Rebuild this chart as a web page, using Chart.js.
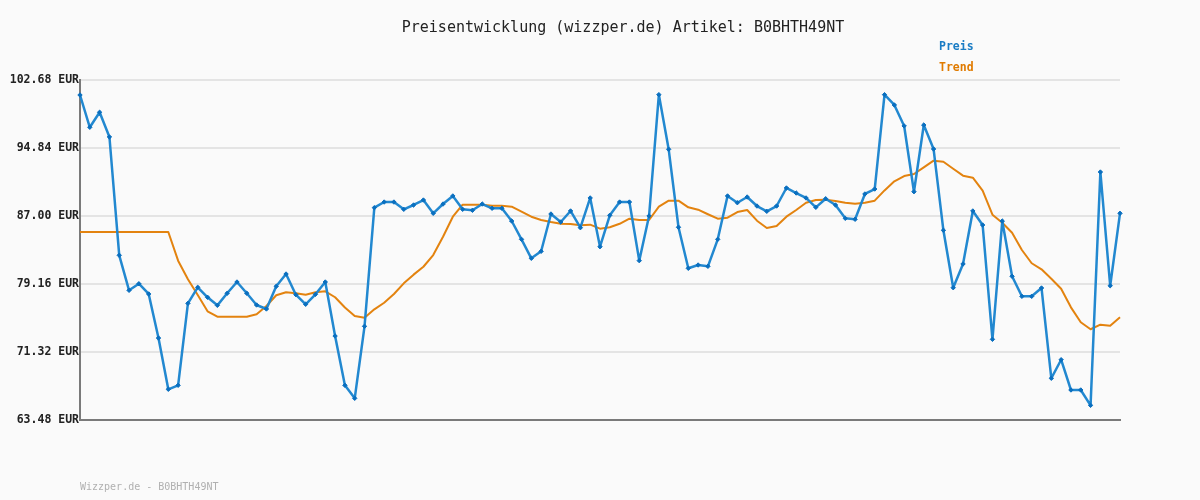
<!DOCTYPE html>
<html>
<head>
<meta charset="utf-8">
<script src="https://cdn.jsdelivr.net/npm/chart.js@4"></script>
<style>
  body { margin: 0; background: #fafafa; }
  #wrap { position: relative; width: 1200px; height: 500px; background: #fafafa; }
  .txt { position: absolute; font-family: "DejaVu Sans Mono", monospace; white-space: nowrap; }
  #title { left: 0; width: 1246px; top: 18px; text-align: center; font-size: 15px; color: #222; }
  #lgPreis { left: 939px; top: 39px; font-size: 11.5px; font-weight: bold; color: #1a7cc4; }
  #lgTrend { left: 939px; top: 60px; font-size: 11.5px; font-weight: bold; color: #e07b00; }
  #footer { left: 80px; top: 481px; font-size: 10px; color: #b0b0b0; }
</style>
</head>
<body>
<div id="wrap">
  <canvas id="myChart" width="1200" height="500"></canvas>
  <div class="txt" id="title">Preisentwicklung (wizzper.de) Artikel: B0BHTH49NT</div>
  <div class="txt" id="lgPreis">Preis</div>
  <div class="txt" id="lgTrend">Trend</div>
  <div class="txt" id="footer">Wizzper.de - B0BHTH49NT</div>
</div>
<script>
// Preis, gelesen aus dem Bild
const preis = [
    100.95, 97.23, 98.96, 96.11, 82.47, 78.43, 79.19, 78.01, 72.93, 67.02,
    67.48, 76.93, 78.78, 77.63, 76.70, 78.09, 79.39, 78.09, 76.74, 76.28,
    78.89, 80.31, 77.93, 76.82, 77.97, 79.39, 73.16, 67.48, 65.98, 74.28,
    87.96, 88.61, 88.61, 87.77, 88.27, 88.84, 87.31, 88.38, 89.31, 87.77,
    87.66, 88.38, 87.89, 87.89, 86.42, 84.31, 82.12, 82.93, 87.23, 86.31,
    87.58, 85.65, 89.08, 83.46, 87.08, 88.61, 88.61, 81.85, 87.00, 100.99,
    94.69, 85.70, 80.97, 81.35, 81.20, 84.31, 89.31, 88.53, 89.19, 88.15,
    87.54, 88.15, 90.23, 89.65, 89.08, 88.00, 88.99, 88.27, 86.73, 86.62,
    89.54, 90.11, 100.99, 99.80, 97.38, 89.80, 97.49, 94.72, 85.35, 78.73,
    81.47, 87.58, 85.96, 72.78, 86.42, 80.05, 77.74, 77.74, 78.70, 68.29,
    70.43, 66.94, 66.94, 65.17, 92.07, 78.96, 87.31
];

const trend = [
    85.16, 85.16, 85.16, 85.16, 85.16, 85.16, 85.16, 85.16, 85.16, 85.16,
    81.85, 79.70, 77.90, 76.01, 75.39, 75.39, 75.39, 75.39, 75.67, 76.62,
    77.86, 78.20, 78.09, 77.93, 78.20, 78.32, 77.63, 76.45, 75.47, 75.27,
    76.24, 77.00, 78.01, 79.24, 80.24, 81.15, 82.50, 84.61, 86.92, 88.30,
    88.30, 88.30, 88.19, 88.19, 88.07, 87.50, 86.92, 86.54, 86.31, 86.11,
    86.08, 85.93, 86.00, 85.54, 85.70, 86.10, 86.69, 86.54, 86.54, 88.07,
    88.77, 88.77, 88.00, 87.73, 87.20, 86.69, 86.81, 87.46, 87.69, 86.46,
    85.62, 85.85, 86.92, 87.69, 88.53, 88.84, 88.88, 88.73, 88.53, 88.42,
    88.53, 88.77, 89.95, 91.00, 91.61, 91.84, 92.61, 93.38, 93.26, 92.45,
    91.65, 91.42, 89.92, 87.15, 86.23, 85.07, 83.08, 81.55, 80.85, 79.77,
    78.62, 76.47, 74.75, 73.94, 74.47, 74.35, 75.32
];

const yTicks = [63.48, 71.32, 79.16, 87.00, 94.84, 102.68];
const labels = preis.map((_, i) => i + 1);

const ctx = document.getElementById("myChart");

new Chart(ctx, {
    type: "line",
    data: {
        labels: labels,
        datasets: [
            {
                label: "Trend",
                data: trend,
                borderColor: "#e3830f",
                borderWidth: 2,
                borderJoinStyle: "round",
                pointRadius: 0,
                tension: 0,
                order: 2,
            },
            {
                label: "Preis",
                data: preis,
                borderColor: "#2288d0",
                borderWidth: 2.5,
                borderJoinStyle: "round",
                pointStyle: "rectRot",
                pointRadius: 2.2,
                pointBackgroundColor: "#0a6fbf",
                pointBorderColor: "#0a6fbf",
                pointBorderWidth: 1,
                tension: 0,
                order: 1,
            },
        ],
    },
    options: {
        responsive: false,
        animation: false,
        layout: {
            padding: { left: 0, top: 80, right: 80, bottom: 80 },
        },
        scales: {
            x: {
                ticks: { display: false },
                grid: { display: false, drawTicks: false },
                border: { color: "#7a7a7a", width: 2 },
                afterFit: (scale) => { scale.height = 0; },
            },
            y: {
                min: 63.48,
                max: 102.68,
                afterBuildTicks: (scale) => {
                    scale.ticks = yTicks.map((v) => ({ value: v }));
                },
                afterFit: (scale) => { scale.width = 80; },
                grid: {
                    color: "#e4e4e4",
                    lineWidth: 2,
                    drawTicks: false,
                },
                border: { color: "#7a7a7a", width: 2 },
                ticks: {
                    padding: 1,
                    color: "#222",
                    font: { family: "DejaVu Sans Mono", size: 11.5, weight: "bold" },
                    callback: (v) => Number(v).toFixed(2) + " EUR",
                },
            },
        },
        plugins: {
            legend: { display: false },
            tooltip: { enabled: false },
        },
    },
});
</script>
</body>
</html>
